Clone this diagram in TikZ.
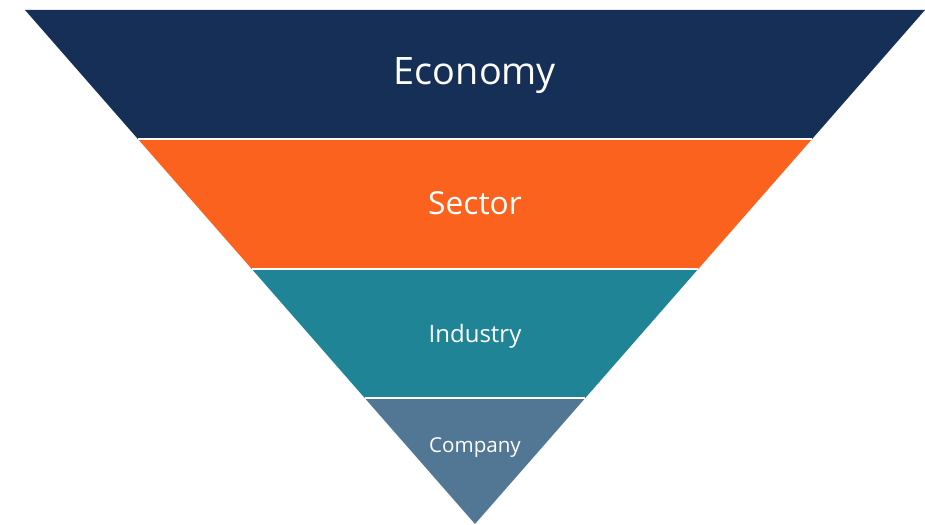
\documentclass[tikz,border=0pt]{standalone}
\usepackage{fontspec}
\setmainfont{Open Sans}
\definecolor{cEcon}{HTML}{152F57}
\definecolor{cSect}{HTML}{FA621E}
\definecolor{cInd}{HTML}{1F8596}
\definecolor{cComp}{HTML}{527795}
\tikzset{
  sep/.style={draw=white, line width=1.2pt},
  lbl/.style={text=white, inner sep=0pt, anchor=base},
}
\begin{document}
\begin{tikzpicture}[x=1pt,y=-1pt]
\useasboundingbox (0,0) rectangle (925,524);
\coordinate (a0l) at (25,10);    \coordinate (a0r) at (925,10);
\coordinate (a1l) at (137.9,139); \coordinate (a1r) at (812.1,139);
\coordinate (a2l) at (251.8,269); \coordinate (a2r) at (698.2,269);
\coordinate (a3l) at (364.7,398); \coordinate (a3r) at (585.3,398);
\coordinate (apex) at (475,524);
\fill[cEcon] (a0l) -- (a0r) -- (a1r) -- (a1l) -- cycle;
\fill[cSect] (a1l) -- (a1r) -- (a2r) -- (a2l) -- cycle;
\fill[cInd] (a2l) -- (a2r) -- (a3r) -- (a3l) -- cycle;
\fill[cComp] (a3l) -- (a3r) -- (apex) -- cycle;
\draw[sep] (a1l) -- (a1r);
\draw[sep] (a2l) -- (a2r);
\draw[sep] (a3l) -- (a3r);
\node[lbl, font=\fontsize{37.8}{44}\selectfont] (econ) at (475,85) {Economy};
\node[lbl, font=\fontsize{31.7}{37}\selectfont] (sect) at (475,214) {Sector};
\node[lbl, font=\fontsize{24}{29}\selectfont] (ind) at (475,342.5) {Industry};
\node[lbl, font=\fontsize{20.6}{25}\selectfont] (comp) at (475,452) {Company};
\end{tikzpicture}
\end{document}
